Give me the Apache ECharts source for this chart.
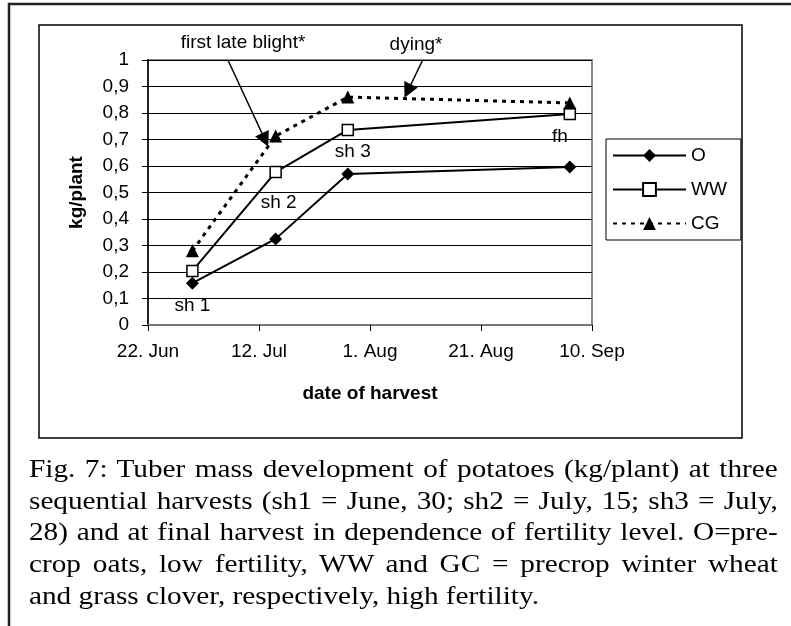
<!DOCTYPE html>
<html>
<head>
<meta charset="utf-8">
<script src="https://cdn.jsdelivr.net/npm/echarts@6/dist/echarts.min.js"></script>
<style>
  body { margin: 0; background: #fff; }
  #wrap { position: relative; width: 791px; height: 626px; overflow: hidden; }
  #chart { position: absolute; left: 0; top: 0; width: 791px; height: 626px; }
  #caption {
    position: absolute; left: 29px; top: 453px; width: 640px;
    transform: scaleX(1.17); transform-origin: 0 0;
    font-family: 'Liberation Serif', 'Times New Roman', serif;
    font-size: 25px; line-height: 31.7px; color: #000;
  }
  #caption div { text-align: justify; text-align-last: justify; white-space: nowrap; }
  #caption div.last { text-align: left; text-align-last: left; }
</style>
</head>
<body>
<div id="wrap">
  <div id="chart"></div>
  <div id="caption">
    <div>Fig. 7: Tuber mass development of potatoes (kg/plant) at three</div>
    <div>sequential harvests (sh1 = June, 30; sh2 = July, 15; sh3 = July,</div>
    <div>28) and at final harvest in dependence of fertility level. O=pre-</div>
    <div>crop oats, low fertility, WW and GC = precrop winter wheat</div>
    <div class="last">and grass clover, respectively, high fertility.</div>
  </div>
</div>
<script>
  // data
  var startDate = '2001-06-22';
  var harvestDates = ['2001-06-30', '2001-07-15', '2001-07-28', '2001-09-06'];
  var harvestLabels = ['sh 1', 'sh 2', 'sh 3', 'fh'];
  var xTickLabels = ['22. Jun', '12. Jul', '1. Aug', '21. Aug', '10. Sep'];
  var valuesO = [0.158, 0.325, 0.57, 0.596];
  var valuesWW = [0.204, 0.577, 0.736, 0.796];
  var valuesCG = [0.28, 0.713, 0.86, 0.838];
  // annotation arrows: [day since start, kg/plant]
  var blightArrow = [[14.4, 1.0], [21.1, 0.698]];
  var dyingArrow = [[49.5, 1.0], [46.8, 0.883]];

  function dayOf(s) {
    return Math.round((new Date(s) - new Date(startDate)) / 864e5);
  }
  var days = harvestDates.map(dayOf);
  function pts(vals) {
    return vals.map(function (v, i) { return [days[i], v]; });
  }

  var txt = { fontFamily: 'Liberation Sans, Arial, sans-serif', fontSize: 19, color: '#000' };

  var dataO = pts(valuesO);
  dataO[0] = { value: dataO[0], label: { show: true, formatter: harvestLabels[0], position: 'bottom', distance: 7, ...txt } };

  var dataWW = pts(valuesWW);
  dataWW[1] = { value: dataWW[1], label: { show: true, formatter: harvestLabels[1], position: 'bottom', distance: 15, offset: [3, 0], ...txt } };
  dataWW[2] = { value: dataWW[2], label: { show: true, formatter: harvestLabels[2], position: 'bottom', distance: 6, offset: [5, 0], ...txt } };
  dataWW[3] = { value: dataWW[3], label: { show: true, formatter: harvestLabels[3], position: 'bottom', distance: 7, offset: [-10, 0], ...txt } };

  function arrow(a) {
    return [{ coord: a[0], symbol: 'none' }, { coord: a[1], symbol: 'triangle' }];
  }

  var chart = echarts.init(document.getElementById('chart'));
  chart.setOption({
    animation: false,
    backgroundColor: '#fff',
    grid: { left: 148, top: 60, width: 444, height: 265, show: true, borderColor: '#888', borderWidth: 2, backgroundColor: '#fff' },
    legend: {
      orient: 'vertical', left: 606, top: 139,
      padding: [7, 14, 7, 6],
      itemWidth: 73, itemHeight: 16, itemGap: 15,
      backgroundColor: '#fff', borderColor: '#000', borderWidth: 1,
      textStyle: { ...txt },
      data: ['O', 'WW', 'CG']
    },
    xAxis: {
      type: 'value', min: 0, max: 80, interval: 20,
      name: 'date of harvest', nameLocation: 'middle', nameGap: 59,
      nameTextStyle: { ...txt, fontWeight: 'bold' },
      axisLine: { lineStyle: { color: '#777', width: 2 } },
      axisTick: { show: true, length: 6, lineStyle: { color: '#000' } },
      axisLabel: { margin: 17, ...txt, formatter: function (v) { return xTickLabels[v / 20]; } },
      splitLine: { show: false }
    },
    yAxis: {
      type: 'value', min: 0, max: 1, interval: 0.1,
      name: 'kg/plant', nameLocation: 'middle', nameGap: 62, nameRotate: 90,
      nameTextStyle: { ...txt, fontWeight: 'bold' },
      axisLine: { show: true, lineStyle: { color: '#000', width: 1.5 } },
      axisTick: { show: true, length: 6, lineStyle: { color: '#000' } },
      axisLabel: { margin: 19, ...txt, formatter: function (v) { return v === 0 || v === 1 ? String(v) : v.toFixed(1).replace('.', ','); } },
      splitLine: { lineStyle: { color: '#000', width: 1 } }
    },
    series: [
      {
        name: 'O', type: 'line', data: dataO,
        symbol: 'diamond', symbolSize: 13,
        lineStyle: { color: '#000', width: 2 },
        itemStyle: { color: '#000' }
      },
      {
        name: 'WW', type: 'line', data: dataWW,
        symbol: 'rect', symbolSize: 11,
        lineStyle: { color: '#000', width: 2 },
        itemStyle: { color: '#fff', borderColor: '#000', borderWidth: 1.5 }
      },
      {
        name: 'CG', type: 'line', data: pts(valuesCG),
        symbol: 'triangle', symbolSize: 13,
        lineStyle: { color: '#000', width: 3, type: [4, 5] },
        itemStyle: { color: '#000' },
        markLine: {
          silent: true, symbolSize: 15,
          label: { show: false },
          lineStyle: { color: '#000', width: 1.5, type: 'solid' },
          data: [arrow(blightArrow), arrow(dyingArrow)]
        }
      }
    ],
    graphic: [
      { type: 'rect', shape: { x: 9, y: 4, width: 900, height: 800 }, style: { fill: 'none', stroke: '#222', lineWidth: 2.5 }, silent: true },
      { type: 'rect', shape: { x: 39, y: 25, width: 703, height: 413 }, style: { fill: 'none', stroke: '#000', lineWidth: 1.5 }, silent: true, z: -1 },
      { type: 'text', x: 243, y: 43, style: { text: 'first late blight*', align: 'center', verticalAlign: 'middle', font: '19px Liberation Sans, Arial, sans-serif', fill: '#000' } },
      { type: 'text', x: 416, y: 45, style: { text: 'dying*', align: 'center', verticalAlign: 'middle', font: '19px Liberation Sans, Arial, sans-serif', fill: '#000' } }
    ]
  });
</script>
</body>
</html>
